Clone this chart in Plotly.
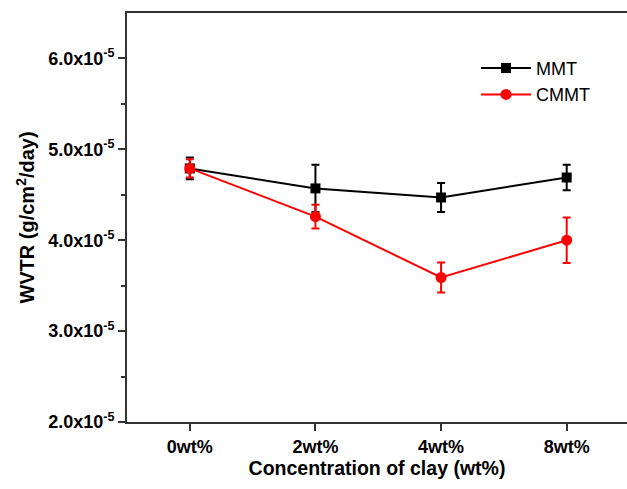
import plotly.graph_objects as go

categories = ["0wt%", "2wt%", "4wt%", "8wt%"]
mmt = [4.79e-5, 4.57e-5, 4.47e-5, 4.69e-5]
mmt_err = [0.12e-5, 0.26e-5, 0.16e-5, 0.14e-5]
cmmt = [4.79e-5, 4.26e-5, 3.59e-5, 4.00e-5]
cmmt_err = [0.10e-5, 0.13e-5, 0.165e-5, 0.25e-5]
ytick_vals = [2e-5, 3e-5, 4e-5, 5e-5, 6e-5]
ytick_text = ["2.0x10<sup>-5</sup>", "3.0x10<sup>-5</sup>", "4.0x10<sup>-5</sup>",
              "5.0x10<sup>-5</sup>", "6.0x10<sup>-5</sup>"]
yminor_vals = [2.5e-5, 3.5e-5, 4.5e-5, 5.5e-5]

xi = list(range(len(categories)))
FONT = "Liberation Sans, Arial, sans-serif"

fig = go.Figure()
fig.add_trace(go.Scatter(
    x=xi, y=mmt, name="MMT", mode="lines+markers",
    line=dict(color="black", width=2),
    marker=dict(symbol="square", size=10, color="black"),
    error_y=dict(type="data", array=mmt_err, color="black", thickness=2, width=4),
))
fig.add_trace(go.Scatter(
    x=xi, y=cmmt, name="CMMT", mode="lines+markers",
    line=dict(color="#ff0000", width=2),
    marker=dict(symbol="circle", size=11, color="#ff0000"),
    error_y=dict(type="data", array=cmmt_err, color="#ff0000", thickness=2, width=4),
))

fig.update_layout(
    width=627, height=489,
    margin=dict(l=127, r=0, t=13, b=67),
    plot_bgcolor="white", paper_bgcolor="white",
    font=dict(family=FONT, color="black"),
    showlegend=True,
    legend=dict(x=0.698, y=0.91, xanchor="left", yanchor="top",
                font=dict(size=18, family=FONT, color="black"),
                bgcolor="rgba(0,0,0,0)", tracegroupgap=0, itemwidth=50),
    xaxis=dict(
        range=[-0.5, 3.48], tickmode="array", tickvals=xi, ticktext=categories,
        showline=True, linecolor="#333", linewidth=2, mirror=True,
        ticks="outside", ticklen=7, tickwidth=2, tickcolor="#333",
        showgrid=False, zeroline=False,
        tickfont=dict(size=18, family=FONT, weight="bold"),
        title=dict(text="Concentration of clay (wt%)", standoff=6,
                   font=dict(size=19.5, family=FONT, weight="bold")),
    ),
    yaxis=dict(
        range=[2e-5, 6.5e-5], tickmode="array", tickvals=ytick_vals, ticktext=ytick_text,
        showline=True, linecolor="#333", linewidth=2,
        ticks="outside", ticklen=7, tickwidth=2, tickcolor="#333",
        minor=dict(tickmode="array", tickvals=yminor_vals, ticks="outside",
                   ticklen=4, tickwidth=2, tickcolor="#333", showgrid=False),
        showgrid=False, zeroline=False,
        tickfont=dict(size=18, family=FONT, weight="bold"),
        title=dict(text="WVTR (g/cm<sup>2</sup>/day)", standoff=8,
                   font=dict(size=20, family=FONT, weight="bold")),
    ),
)

fig.write_html("out.html")
